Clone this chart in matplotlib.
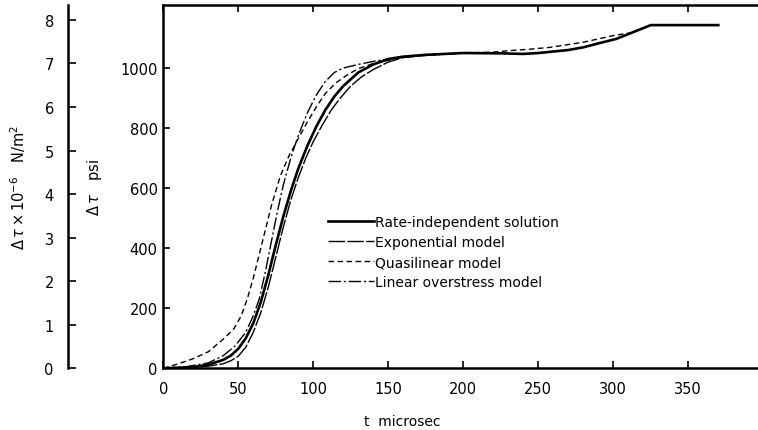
import matplotlib
matplotlib.use('Agg')
import matplotlib.pyplot as plt
import numpy as np

# curves (t in microsec, delta tau in psi)
t_rate = [0, 20, 30, 40, 45, 50, 55, 60, 65, 70, 75, 80, 85, 90, 96, 102, 108, 114, 120, 130, 140, 150, 160, 175,
          200, 225, 240, 250, 258, 270, 280, 290, 302, 313, 325, 370]
p_rate = [0, 4, 12, 28, 42, 65, 100, 150, 220, 310, 410, 505, 590, 665, 740, 805, 860, 905, 940, 985, 1012, 1030,
          1038, 1044, 1050, 1049, 1047, 1050, 1054, 1060, 1069, 1082, 1097, 1119, 1143, 1143]

t_expo = [0, 20, 30, 40, 45, 50, 55, 60, 65, 70, 75, 80, 85, 90, 95, 100, 106, 112, 118, 125, 132, 140, 150, 160,
          175, 200]
p_expo = [0, 2, 7, 15, 25, 40, 70, 120, 185, 270, 370, 470, 560, 635, 700, 755, 810, 860, 900, 940, 970, 995, 1020,
          1035, 1043, 1050]

t_quasi = [0, 10, 20, 30, 40, 47, 52, 56, 60, 64, 68, 72, 78, 84, 90, 96, 102, 108, 115, 122, 130, 140, 150, 160,
           175, 200, 220, 231, 245, 258, 280, 300, 311]
p_quasi = [0, 15, 32, 55, 97, 131, 175, 231, 300, 380, 460, 540, 640, 710, 765, 820, 870, 915, 950, 975, 998, 1015,
           1026, 1035, 1043, 1050, 1053, 1058, 1063, 1069, 1086, 1108, 1117]

t_lin = [0, 15, 30, 40, 48, 55, 60, 64, 68, 72, 76, 80, 85, 90, 96, 102, 108, 114, 120, 130, 140, 150, 160, 175, 200]
p_lin = [0, 5, 18, 42, 75, 120, 175, 231, 320, 420, 520, 610, 700, 775, 850, 910, 955, 985, 1000, 1012, 1022, 1030,
         1036, 1042, 1050]

x_ticks = [0, 50, 100, 150, 200, 250, 300, 350]
y_ticks = [0, 200, 400, 600, 800, 1000]
si_ticks = [0, 1, 2, 3, 4, 5, 6, 7, 8]
psi_per_unit = 145.04  # 1e6 N/m^2 in psi

y_top = 1211
x_right = 396.5

plt.rcParams['font.family'] = 'DejaVu Sans'
fig = plt.figure(figsize=[7.58, 4.31], dpi=100)

# main axes
ax = fig.add_axes([0.2154, 0.1432, 0.7846, 0.8436])
ax.plot(t_rate, p_rate, color='black', lw=1.9, label='Rate-independent solution')
ax.plot(t_expo, p_expo, color='black', lw=1.0, dashes=(12, 1.5), label='Exponential model')
ax.plot(t_quasi, p_quasi, color='black', lw=1.0, dashes=(4, 2.5), label='Quasilinear model')
ax.plot(t_lin, p_lin, color='black', lw=1.0, dashes=(9, 2, 1.5, 2), label='Linear overstress model')
ax.set_xlim(0, x_right)
ax.set_ylim(0, y_top)
ax.set_xticks(x_ticks)
ax.set_yticks(y_ticks)
ax.tick_params(direction='in', length=5, width=1.2, labelsize=10.5, top=True, pad=9)
ax.tick_params(axis='y', pad=4)
ax.spines['right'].set_visible(False)
for s in ['left', 'bottom', 'top']:
    ax.spines[s].set_linewidth(1.8)
ax.set_xlabel('t  microsec', fontsize=10, va='center')
ax.xaxis.set_label_coords(0.401, -0.144)
ax.set_ylabel('$\\Delta\\,\\tau$   psi', fontsize=10.5, labelpad=12)
ax.legend(loc='center left', bbox_to_anchor=(0.277, 0.32), frameon=False, fontsize=10,
          handlelength=3.3, handletextpad=0.1, labelspacing=0.45, borderaxespad=0, borderpad=0)

# left SI axis
ax2 = fig.add_axes([0.0893, 0.1432, 0.01, 0.8436])
ax2.set_ylim(0, y_top / psi_per_unit)
ax2.set_yticks(si_ticks)
ax2.set_xticks([])
for s in ['right', 'top', 'bottom']:
    ax2.spines[s].set_visible(False)
ax2.spines['left'].set_linewidth(1.8)
ax2.patch.set_visible(False)
ax2.tick_params(axis='y', direction='in', length=6, width=1.2, labelsize=10.5, pad=10)
ax2.set_ylabel('$\\Delta\\,\\tau\\times10^{-6}$   N/m$^2$', fontsize=10.5, labelpad=12)

fig.savefig('out.png', dpi=100)
